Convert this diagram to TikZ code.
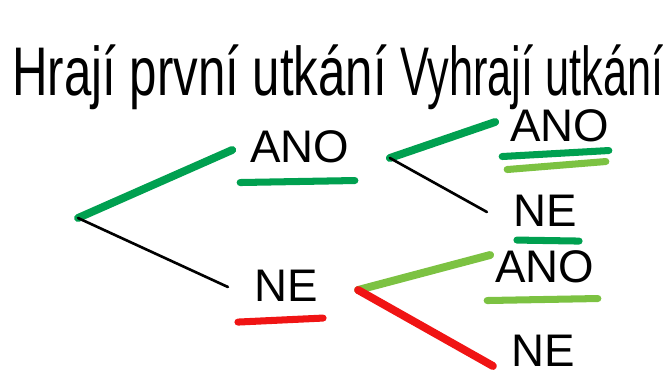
\documentclass[tikz,border=0pt]{standalone}
\usepackage{fontspec}
\setmainfont{Liberation Sans}
\usepackage{graphicx}
\usepackage{xcolor}
\definecolor{tmzel}{RGB}{0,160,80}
\definecolor{svzel}{RGB}{124,194,66}
\definecolor{cerv}{RGB}{240,20,20}

\begin{document}
\begin{tikzpicture}[x=0.02cm,y=-0.02cm,
  odp/.style={inner sep=0pt,font=\fontsize{26}{30}\selectfont},
  nadpis/.style={inner sep=0pt,anchor=base west,font=\fontsize{28}{32}\selectfont},
  vetev/.style={line width=1.5pt,line cap=round},
  tlusta/.style={line width=4.5pt,line cap=round},
  podtrh/.style={line width=4pt,line cap=round}]
\useasboundingbox (0,0) rectangle (670,376);
\node[nadpis] (hraji) at (12,95) {\scalebox{1}[1.4]{Hrají první utkání}};
\node[nadpis] (vyhraji) at (400,95) {\scalebox{0.88}[1.4]{Vyhrají utkání}};
\coordinate (koren) at (78,218);
\node[odp] (ano1) at (300,147) {ANO};
\node[odp] (ne1) at (286,286) {NE};
\coordinate (b1) at ([shift={(40,11)}]ano1.east);
\coordinate (b2) at ([shift={(40,4)}]ne1.east);
\node[odp] (ano2) at (560,126) {ANO};
\node[odp] (ne2) at (545,211) {NE};
\node[odp] (ano3) at (545,267) {ANO};
\node[odp] (ne3) at (543,351) {NE};
\draw[vetev] (koren) -- ([shift={(-18,3)}]ano1.west);
\draw[tlusta,tmzel] (koren) -- ([shift={(-18,3)}]ano1.west);
\draw[vetev] (koren) -- ([shift={(-26,1)}]ne1.west);
\draw[vetev] (b1) -- ([shift={(-15,-4)}]ano2.west);
\draw[tlusta,tmzel] (b1) -- ([shift={(-15,-4)}]ano2.west);
\draw[vetev] (b1) -- ([shift={(-26,1)}]ne2.west);
\draw[vetev] (b2) -- ([shift={(-5,-12)}]ano3.west);
\draw[tlusta,svzel] (b2) -- ([shift={(-5,-12)}]ano3.west);
\draw[vetev] (b2) -- ([shift={(-18,15)}]ne3.west);
\draw[tlusta,cerv] (b2) -- ([shift={(-18,15)}]ne3.west);
\draw[podtrh,tmzel] ([shift={(-10,19)}]ano1.south west) -- ([shift={(5,17)}]ano1.south east);
\draw[podtrh,cerv] ([shift={(-16,20)}]ne1.south west) -- ([shift={(5,16)}]ne1.south east);
\draw[podtrh,tmzel] ([shift={(-8,14)}]ano2.south west) -- ([shift={(-1,8)}]ano2.south east);
\draw[podtrh,svzel] ([shift={(-3,27)}]ano2.south west) -- ([shift={(-4,19)}]ano2.south east);
\draw[podtrh,tmzel] ([shift={(4,13)}]ne2.south west) -- ([shift={(2,14)}]ne2.south east);
\draw[podtrh,svzel] ([shift={(-8,17)}]ano3.south west) -- ([shift={(3,15)}]ano3.south east);
\end{tikzpicture}
\end{document}
